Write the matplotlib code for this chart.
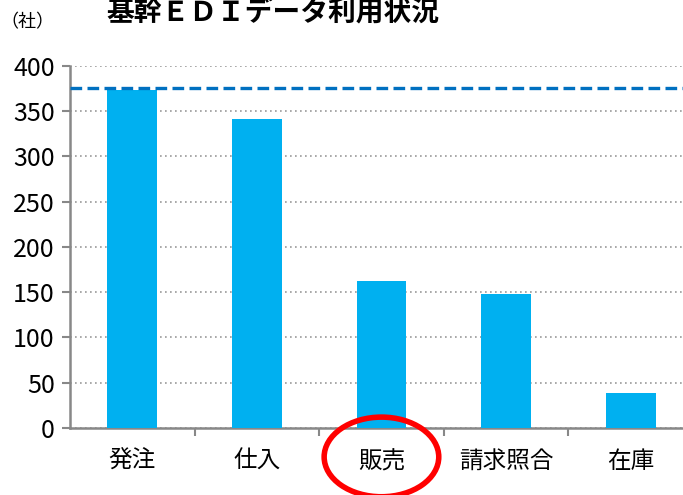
import matplotlib.pyplot as plt
from matplotlib.patches import Ellipse

plt.rcParams['font.family'] = ['Noto Sans CJK JP', 'DejaVu Sans']

# データ
categories = ["発注", "仕入", "販売", "請求照合", "在庫"]
companies = [373, 341, 162, 148, 39]
reference_line = 376
highlight = "販売"

fig = plt.figure(figsize=(6.83, 4.95), dpi=100)
ax = fig.add_axes([0.1025, 0.1354, 0.912, 0.7313])

x = range(len(categories))
ax.bar(x, companies, width=0.4, color="#00B0F0", zorder=3)
ax.axhline(reference_line, color="#0070C0", linewidth=2.4, linestyle=(0, (3.5, 1.6)), zorder=4)

ax.set_xlim(-0.5, len(categories) - 0.5)
ax.set_ylim(0, 400)
ax.set_yticks(range(0, 401, 50))
ax.tick_params(axis="y", labelsize=18, length=6, color="#888888", width=1.5, pad=5)

ax.set_xticks(list(x))
ax.set_xticklabels(categories, fontsize=17)
ax.tick_params(axis="x", length=0, pad=16)
ax.set_xticks([i + 0.5 for i in range(len(categories) - 1)], minor=True)
ax.tick_params(axis="x", which="minor", length=6, color="#888888", width=1.5)

ax.grid(axis="y", linestyle=(0, (1, 2)), color="#999999", linewidth=1.2, zorder=0)
for s in ["top", "right"]:
    ax.spines[s].set_visible(False)
for s in ["left", "bottom"]:
    ax.spines[s].set_color("#888888")
    ax.spines[s].set_linewidth(1.8)

# 強調の楕円
hi = categories.index(highlight)
ax.add_patch(Ellipse((hi, -32), 0.92, 88, fill=False, edgecolor="#FF0000",
                     linewidth=4, clip_on=False, zorder=5))

fig.text(0.40, 0.975, "基幹ＥＤＩデータ利用状況", fontsize=20, fontweight="bold",
         ha="center", va="center")
fig.text(0.04, 0.955, "（社）", fontsize=13, ha="center", va="center")

plt.savefig("out.png", dpi=100)
